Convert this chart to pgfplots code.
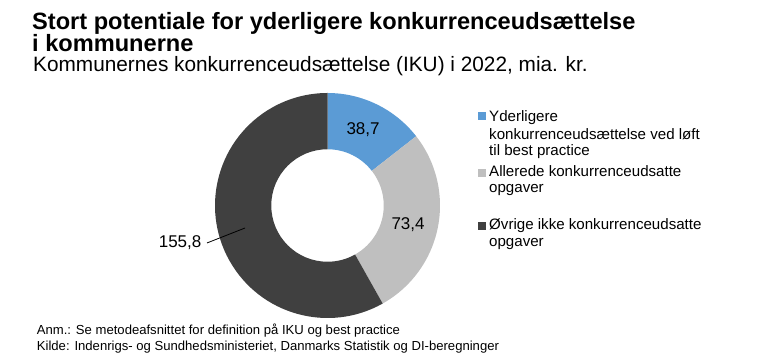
\documentclass[border=0pt]{standalone}
\usepackage{pgfplots}
\pgfplotsset{compat=1.18}
\usepackage{fontspec}
\setmainfont{Liberation Sans}
\definecolor{cBlue}{HTML}{5B9BD5}
\definecolor{cGray}{HTML}{BFBFBF}
\definecolor{cDark}{HTML}{404040}
\begin{document}
\begin{tikzpicture}
\useasboundingbox (0pt,0pt) rectangle (757pt,363pt);
% data (mia. kr.)
\def\vA{38.7}\def\vB{73.4}\def\vC{155.8}
\pgfmathsetmacro\tot{\vA+\vB+\vC}
\pgfmathsetmacro\aA{90}
\pgfmathsetmacro\aB{90-\vA/\tot*360}
\pgfmathsetmacro\aC{\aB-\vB/\tot*360}
\pgfmathsetmacro\aD{\aC-\vC/\tot*360}
\begin{axis}[at={(327.5pt,157.5pt)}, anchor=center, scale only axis,
  width=225pt, height=225pt, xmin=-1, xmax=1, ymin=-1, ymax=1,
  hide axis, clip=false]
\fill[cBlue] (axis cs:{cos(\aA)},{sin(\aA)}) arc[start angle=\aA, end angle=\aB, radius=112.5pt]
  -- (axis cs:{0.5*cos(\aB)},{0.5*sin(\aB)}) arc[start angle=\aB, end angle=\aA, radius=56.25pt] -- cycle;
\fill[cGray] (axis cs:{cos(\aB)},{sin(\aB)}) arc[start angle=\aB, end angle=\aC, radius=112.5pt]
  -- (axis cs:{0.5*cos(\aC)},{0.5*sin(\aC)}) arc[start angle=\aC, end angle=\aB, radius=56.25pt] -- cycle;
\fill[cDark] (axis cs:{cos(\aC)},{sin(\aC)}) arc[start angle=\aC, end angle=\aD, radius=112.5pt]
  -- (axis cs:{0.5*cos(\aD)},{0.5*sin(\aD)}) arc[start angle=\aD, end angle=\aC, radius=56.25pt] -- cycle;
\node[font=\fontsize{17}{20}\selectfont] at (axis cs:0.316,0.671) {38,7};
\node[font=\fontsize{17}{20}\selectfont] at (axis cs:0.716,-0.173) {73,4};
\node[font=\fontsize{17}{20}\selectfont, anchor=east] at (axis cs:-1.09,-0.333) {155,8};
\draw[black, line width=0.8pt] (axis cs:-1.071,-0.333) -- (axis cs:-0.733,-0.2);
\end{axis}
% titles
\node[anchor=base west, inner sep=0pt, font=\fontsize{23.6}{24}\selectfont\bfseries] at (32pt,333.6pt) {Stort potentiale for yderligere konkurrenceudsættelse};
\node[anchor=base west, inner sep=0pt, font=\fontsize{23.6}{24}\selectfont\bfseries] at (32pt,311pt) {i kommunerne};
\node[anchor=base west, inner sep=0pt, font=\fontsize{20.8}{21}\selectfont] at (33pt,291pt) {Kommunernes konkurrenceudsættelse (IKU) i 2022, mia. kr.};
% legend
\fill[cBlue] (478pt,243pt) rectangle (486pt,251pt);
\fill[cGray] (478pt,186pt) rectangle (486pt,194pt);
\fill[cDark] (478pt,133pt) rectangle (486pt,141pt);
\begin{scope}[every node/.style={anchor=base west, inner sep=0pt, font=\fontsize{15.1}{17}\selectfont}]
\node at (489pt,241.3pt) {Yderligere};
\node at (489pt,223pt) {konkurrenceudsættelse ved løft};
\node at (489pt,207pt) {til best practice};
\node at (489pt,186.3pt) {Allerede konkurrenceudsatte};
\node at (489pt,170.3pt) {opgaver};
\node at (489pt,133pt) {Øvrige ikke konkurrenceudsatte};
\node at (489pt,116.3pt) {opgaver};
\end{scope}
% notes
\begin{scope}[every node/.style={anchor=base west, inner sep=0pt, font=\fontsize{13.1}{15}\selectfont}]
\node at (36.7pt,28pt) {Anm.: Se metodeafsnittet for definition på IKU og best practice};
\node at (36.7pt,12.3pt) {Kilde: Indenrigs- og Sundhedsministeriet, Danmarks Statistik og DI-beregninger};
\end{scope}
\end{tikzpicture}
\end{document}
